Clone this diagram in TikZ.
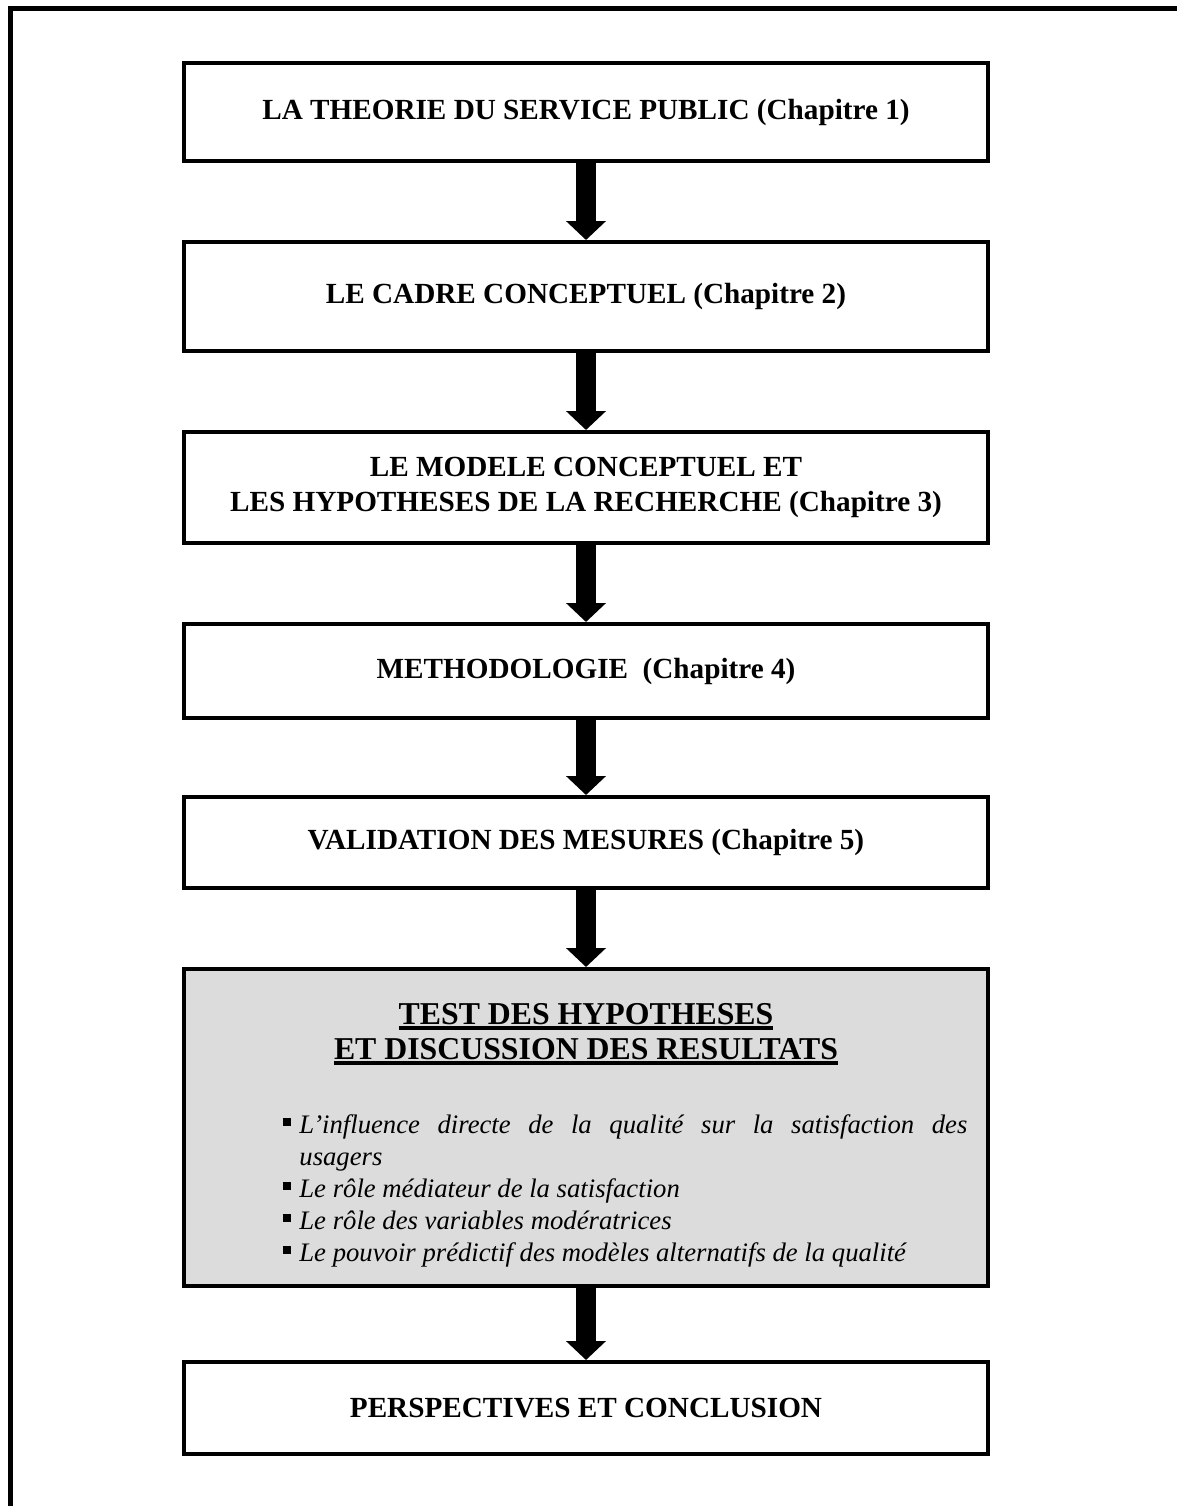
\documentclass[tikz,border=0pt]{standalone}
\usepackage{fontspec}
\setmainfont{Liberation Serif}
\usetikzlibrary{arrows.meta, calc}
\definecolor{boxgray}{RGB}{220,220,220}
\newcommand\chapfnt{\bfseries\fontsize{14.6}{17.5}\selectfont}
\newcommand\headfnt{\bfseries\fontsize{15.9}{19}\selectfont}
\newcommand\listfnt{\itshape\fontsize{13.35}{16}\selectfont}
\newcommand\thickul[1]{\setbox0\hbox{#1}\rlap{\rule[-3pt]{\wd0}{1.8pt}}\box0}
\tikzset{
  frameline/.style = {line width=2.5pt},
  chapbox/.style   = {draw, line width=2pt, minimum width=402pt, inner sep=0pt,
                      align=center, font=\chapfnt},
  bigarrow/.style  = {line width=10pt, -{Triangle[length=9.5pt, width=19.5pt]}},
  headline/.style  = {anchor=base, inner sep=0pt, font=\headfnt},
  listitem/.style  = {anchor=base west, inner sep=0pt, font=\listfnt,
                      execute at begin node={\tolerance=9999\hyphenpenalty=10000}},
  sqbullet/.style  = {fill, inner sep=0pt, minimum size=3.8pt},
}
\begin{document}
\begin{tikzpicture}[x=0.5pt, y=-0.5pt]
\useasboundingbox (0,0) rectangle (1177,1506);

% cadre
\draw[frameline] (10,1520) -- (10,8) -- (1190,8);

% chapitres
\node[chapbox, minimum height=49pt] (ch1) at (586,112) {LA THEORIE DU SERVICE PUBLIC (Chapitre 1)};
\node[chapbox, minimum height=54.5pt] (ch2) at (586,296.5) {LE CADRE CONCEPTUEL (Chapitre 2)};
\node[chapbox, minimum height=55.5pt] (ch3) at (586,487.5) {LE MODELE CONCEPTUEL ET\\LES HYPOTHESES DE LA RECHERCHE (Chapitre 3)};
\node[chapbox, minimum height=47pt] (ch4) at (586,671) {METHODOLOGIE~ (Chapitre 4)};
\node[chapbox, minimum height=45.5pt] (ch5) at (586,842.5) {VALIDATION DES MESURES (Chapitre 5)};
\node[chapbox, fill=boxgray, minimum height=158.5pt] (ch6) at (586,1127.5) {};
\node[chapbox, minimum height=46pt] (ch7) at (586,1408) {PERSPECTIVES ET CONCLUSION};

% fleches
\foreach \a/\b in {ch1/ch2, ch2/ch3, ch3/ch4, ch4/ch5, ch5/ch6, ch6/ch7}
  \draw[bigarrow] (\a) -- (\b);

% test des hypotheses
\node[headline] (head1) at (586,1024) {\thickul{TEST DES HYPOTHESES}};
\node[headline] (head2) at (586,1059) {\thickul{ET DISCUSSION DES RESULTATS}};

\node[listitem, text width=334pt, align=justify] (it1) at (299,1133) {L'influence directe de la qualité sur la satisfaction des\linebreak usagers};
\node[listitem] (it2) at (299,1197) {Le rôle médiateur de la satisfaction};
\node[listitem] (it3) at (299,1229) {Le rôle des variables modératrices};
\node[listitem] (it4) at (299,1261) {Le pouvoir prédictif des modèles alternatifs de la qualité};

\foreach \i in {1,...,4}
  \node[sqbullet] (bul\i) at ($(it\i.base west)+(-12,-11)$) {};

\end{tikzpicture}
\end{document}
